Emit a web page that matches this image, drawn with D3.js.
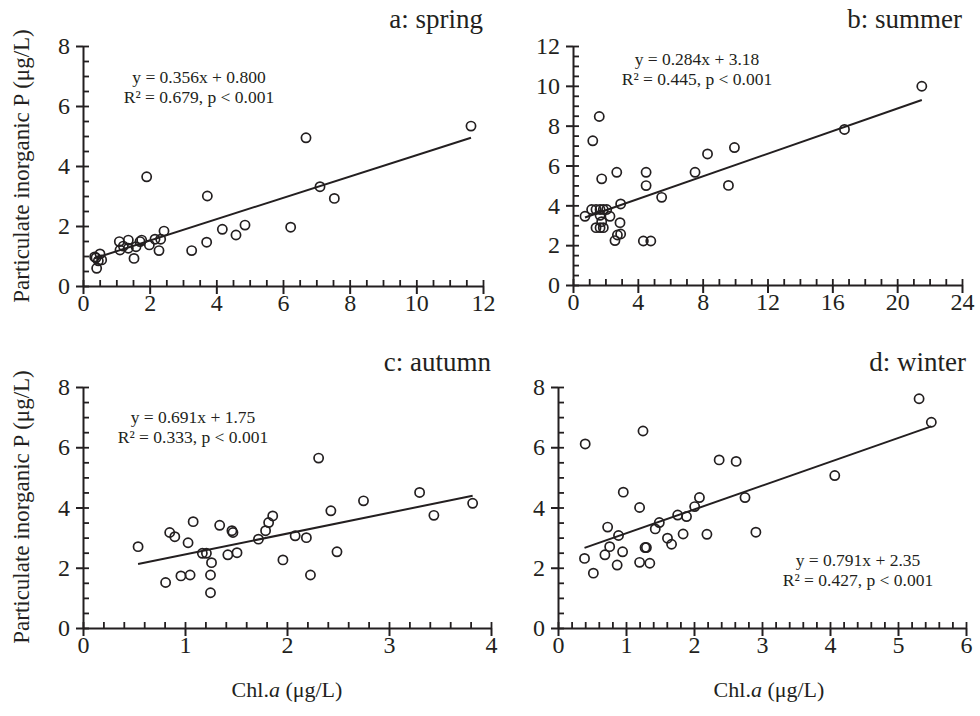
<!DOCTYPE html>
<html>
<head>
<meta charset="utf-8">
<script src="https://cdn.jsdelivr.net/npm/d3@7"></script>
<style>
  body { margin: 0; background: #fff; }
  svg text { font-family: "Liberation Serif", "Times New Roman", serif; fill: #231f20; }
  .axis path, .axis line { stroke: #231f20; }
</style>
</head>
<body>
<div id="chart"></div>
<script>
// Seasonal data: Chl.a (x) vs particulate inorganic P (y)
const springChl = [0.39, 0.51, 0.56, 0.41, 0.35, 0.46, 1.09, 1.11, 1.21, 1.36, 1.36, 1.53, 1.59, 1.71, 1.76, 1.91, 1.99, 2.16, 2.28, 2.33, 2.43, 3.26, 3.71, 3.73, 4.18, 4.59, 4.86, 6.23, 6.69, 7.11, 7.54, 11.64];
const springPIP = [0.94, 1.07, 0.87, 0.59, 0.97, 0.84, 1.48, 1.20, 1.33, 1.53, 1.26, 0.92, 1.31, 1.48, 1.53, 3.64, 1.37, 1.56, 1.18, 1.56, 1.83, 1.18, 1.46, 3.00, 1.89, 1.70, 2.03, 1.96, 4.94, 3.31, 2.92, 5.33];

const summerChl = [0.74, 1.15, 1.42, 1.67, 1.87, 2.08, 2.28, 1.62, 1.22, 1.77, 2.70, 2.94, 2.90, 1.42, 1.67, 1.87, 1.77, 1.67, 2.59, 2.74, 2.94, 4.51, 4.51, 4.34, 4.80, 5.47, 7.53, 8.30, 9.96, 9.59, 16.75, 21.52];
const summerPIP = [3.45, 3.79, 3.79, 3.79, 3.79, 3.79, 3.45, 8.46, 7.24, 5.33, 5.66, 4.07, 3.13, 2.88, 2.88, 2.88, 3.18, 3.50, 2.23, 2.51, 2.56, 5.66, 4.99, 2.21, 2.21, 4.40, 5.66, 6.58, 6.90, 5.00, 7.81, 9.98];

const autumnChl = [0.54, 0.81, 0.85, 0.90, 0.96, 1.03, 1.05, 1.08, 1.17, 1.21, 1.26, 1.25, 1.25, 1.34, 1.42, 1.46, 1.47, 1.51, 1.72, 1.79, 1.82, 1.86, 1.96, 2.08, 2.19, 2.23, 2.31, 2.43, 2.49, 2.75, 3.30, 3.44, 3.82];
const autumnPIP = [2.70, 1.51, 3.17, 3.03, 1.73, 2.83, 1.76, 3.53, 2.48, 2.48, 2.17, 1.76, 1.17, 3.41, 2.43, 3.23, 3.17, 2.50, 2.95, 3.23, 3.50, 3.72, 2.26, 3.06, 3.00, 1.76, 5.64, 3.89, 2.53, 4.22, 4.50, 3.74, 4.14];

const winterChl = [0.40, 0.39, 0.52, 0.69, 0.73, 0.76, 0.87, 0.89, 0.95, 0.96, 1.20, 1.20, 1.25, 1.28, 1.30, 1.35, 1.43, 1.49, 1.61, 1.67, 1.76, 1.84, 1.89, 2.01, 2.08, 2.19, 2.37, 2.62, 2.75, 2.91, 4.07, 5.31, 5.49];
const winterPIP = [6.11, 2.31, 1.82, 2.43, 3.35, 2.70, 2.09, 3.07, 2.53, 4.51, 4.00, 2.18, 6.54, 2.67, 2.67, 2.15, 3.29, 3.50, 2.98, 2.78, 3.75, 3.12, 3.70, 4.03, 4.33, 3.11, 5.58, 5.53, 4.33, 3.18, 5.06, 7.61, 6.83];

// Regression fits: [slope, intercept]
const springFit = [0.356, 0.800];
const summerFit = [0.284, 3.18];
const autumnFit = [0.691, 1.75];
const winterFit = [0.791, 2.35];

const springLabels = ["y = 0.356x + 0.800", "R² = 0.679, p < 0.001"];
const summerLabels = ["y = 0.284x + 3.18", "R² = 0.445, p < 0.001"];
const autumnLabels = ["y = 0.691x + 1.75", "R² = 0.333, p < 0.001"];
const winterLabels = ["y = 0.791x + 2.35", "R² = 0.427, p < 0.001"];

// Tick values
const springXTicks = [0, 2, 4, 6, 8, 10, 12];
const summerXTicks = [0, 4, 8, 12, 16, 20, 24];
const autumnXTicks = [0, 1, 2, 3, 4];
const winterXTicks = [0, 1, 2, 3, 4, 5, 6];
const yTicks8 = [0, 2, 4, 6, 8];
const yTicks12 = [0, 2, 4, 6, 8, 10, 12];

const width = 980;
const height = 716;

const svg = d3.select("#chart")
  .append("svg")
  .attr("width", width)
  .attr("height", height);

function minorTicks(max, step) {
  return d3.range(0, max + step / 2, step);
}

function drawPanel(p) {
  const x = d3.scaleLinear().domain([0, p.xMax]).range([p.left, p.right]);
  const y = d3.scaleLinear().domain([0, p.yMax]).range([p.bottom, p.top]);

  const g = svg.append("g");

  // y axis: major ticks outside with labels
  g.append("g")
    .attr("class", "axis")
    .attr("transform", `translate(${p.left},0)`)
    .call(d3.axisLeft(y).tickValues(p.yTicks).tickFormat(d3.format("d")).tickSizeInner(7).tickSizeOuter(0).tickPadding(6))
    .call(a => a.select(".domain").attr("stroke-width", 2))
    .call(a => a.selectAll("line").attr("stroke-width", 2))
    .call(a => a.selectAll("text").style("font-size", "24px").attr("fill", "#231f20"));

  // y axis inner ticks (major + minor)
  g.append("g")
    .attr("class", "axis")
    .attr("transform", `translate(${p.left},0)`)
    .call(d3.axisRight(y).tickValues(minorTicks(p.yMax, p.yMinor)).tickSize(6).tickFormat(""))
    .call(a => a.select(".domain").remove())
    .call(a => a.selectAll("line").attr("stroke-width", 1.8));

  // x axis: major ticks outside with labels
  g.append("g")
    .attr("class", "axis")
    .attr("transform", `translate(0,${p.bottom})`)
    .call(d3.axisBottom(x).tickValues(p.xTicks).tickFormat(d3.format("d")).tickSizeInner(8).tickSizeOuter(0))
    .call(a => a.select(".domain").attr("stroke-width", 2))
    .call(a => a.selectAll("line").attr("stroke-width", 2))
    .call(a => a.selectAll("text").attr("y", 8).style("font-size", "24px").attr("fill", "#231f20"));

  // x axis inner ticks
  g.append("g")
    .attr("class", "axis")
    .attr("transform", `translate(0,${p.bottom})`)
    .call(d3.axisTop(x).tickValues(minorTicks(p.xMax, p.xMinor)).tickSize(6).tickFormat(""))
    .call(a => a.select(".domain").remove())
    .call(a => a.selectAll("line").attr("stroke-width", 1.8));

  // regression line
  const xs = d3.extent(p.chl);
  g.append("line")
    .attr("x1", x(xs[0]))
    .attr("x2", x(xs[1]))
    .attr("y1", y(p.fit[0] * xs[0] + p.fit[1]))
    .attr("y2", y(p.fit[0] * xs[1] + p.fit[1]))
    .attr("stroke", "#231f20")
    .attr("stroke-width", 2);

  // points
  g.selectAll("circle")
    .data(p.chl.map((c, i) => [c, p.pip[i]]))
    .join("circle")
    .attr("cx", d => x(d[0]))
    .attr("cy", d => y(d[1]))
    .attr("r", 4.6)
    .attr("fill", "none")
    .attr("stroke", "#231f20")
    .attr("stroke-width", 1.7);

  // equation
  g.selectAll(".eq")
    .data(p.labels)
    .join("text")
    .attr("class", "eq")
    .attr("x", p.eqX)
    .attr("y", (d, i) => p.eqY + i * 20)
    .attr("text-anchor", "middle")
    .style("font-size", "17.5px")
    .text(d => d);

  // panel title
  g.append("text")
    .attr("x", p.right)
    .attr("y", p.titleY)
    .attr("text-anchor", "end")
    .style("font-size", "27px")
    .text(p.title);
}

drawPanel({
  chl: springChl, pip: springPIP, fit: springFit, labels: springLabels,
  xMax: 12, yMax: 8, xTicks: springXTicks, yTicks: yTicks8, xMinor: 0.5, yMinor: 0.5,
  left: 83, right: 483, top: 46, bottom: 286,
  eqX: 199, eqY: 83, title: "a: spring", titleY: 28
});

drawPanel({
  chl: summerChl, pip: summerPIP, fit: summerFit, labels: summerLabels,
  xMax: 24, yMax: 12, xTicks: summerXTicks, yTicks: yTicks12, xMinor: 1, yMinor: 0.5,
  left: 573, right: 962, top: 46, bottom: 285,
  eqX: 697, eqY: 65, title: "b: summer", titleY: 28
});

drawPanel({
  chl: autumnChl, pip: autumnPIP, fit: autumnFit, labels: autumnLabels,
  xMax: 4, yMax: 8, xTicks: autumnXTicks, yTicks: yTicks8, xMinor: 0.2, yMinor: 0.5,
  left: 83, right: 491, top: 387, bottom: 628,
  eqX: 193, eqY: 423, title: "c: autumn", titleY: 371
});

drawPanel({
  chl: winterChl, pip: winterPIP, fit: winterFit, labels: winterLabels,
  xMax: 6, yMax: 8, xTicks: winterXTicks, yTicks: yTicks8, xMinor: 0.2, yMinor: 0.5,
  left: 558, right: 966, top: 387, bottom: 628,
  eqX: 858, eqY: 566, title: "d: winter", titleY: 371
});

// Y axis titles
[166, 507].forEach(cy => {
  svg.append("text")
    .attr("transform", `translate(29,${cy}) rotate(-90)`)
    .attr("text-anchor", "middle")
    .style("font-size", "23px")
    .text("Particulate inorganic P (μg/L)");
});

// X axis titles
[287, 769].forEach(cx => {
  const t = svg.append("text")
    .attr("x", cx)
    .attr("y", 697)
    .attr("text-anchor", "middle")
    .style("font-size", "22px");
  t.append("tspan").text("Chl.");
  t.append("tspan").style("font-style", "italic").text("a");
  t.append("tspan").text(" (μg/L)");
});
</script>
</body>
</html>
